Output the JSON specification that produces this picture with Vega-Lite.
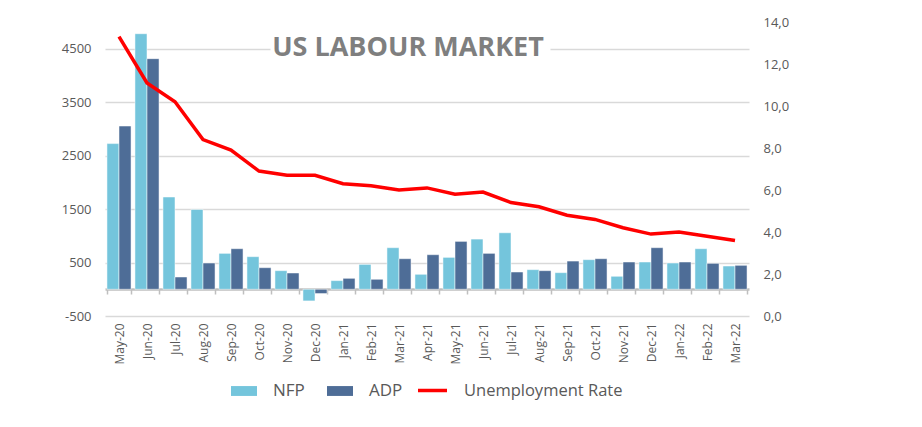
{
  "$schema": "https://vega.github.io/schema/vega-lite/v6.json",
  "width": 644,
  "height": 294,
  "autosize": "none",
  "padding": {"left": 105, "top": 22, "right": 173, "bottom": 111},
  "background": "white",
  "config": {"view": {"stroke": null}, "font": "Open Sans"},
  "title": {
    "text": "US LABOUR MARKET",
    "fontSize": 27,
    "fontWeight": "bold",
    "color": "#7f7f7f",
    "font": "Open Sans",
    "anchor": "middle",
    "frame": "group",
    "offset": -46,
    "dx": -19
  },
  "data": {
    "values": [
      {"month": "May-20", "NFP": 2725, "ADP": 3054, "rate": 13.3},
      {"month": "Jun-20", "NFP": 4781, "ADP": 4314, "rate": 11.1},
      {"month": "Jul-20", "NFP": 1726, "ADP": 230, "rate": 10.2},
      {"month": "Aug-20", "NFP": 1493, "ADP": 491, "rate": 8.4},
      {"month": "Sep-20", "NFP": 672, "ADP": 759, "rate": 7.9},
      {"month": "Oct-20", "NFP": 610, "ADP": 404, "rate": 6.9},
      {"month": "Nov-20", "NFP": 348, "ADP": 305, "rate": 6.7},
      {"month": "Dec-20", "NFP": -218, "ADP": -80, "rate": 6.7},
      {"month": "Jan-21", "NFP": 162, "ADP": 205, "rate": 6.3},
      {"month": "Feb-21", "NFP": 466, "ADP": 187, "rate": 6.2},
      {"month": "Mar-21", "NFP": 778, "ADP": 572, "rate": 6.0},
      {"month": "Apr-21", "NFP": 280, "ADP": 647, "rate": 6.1},
      {"month": "May-21", "NFP": 597, "ADP": 896, "rate": 5.8},
      {"month": "Jun-21", "NFP": 939, "ADP": 672, "rate": 5.9},
      {"month": "Jul-21", "NFP": 1057, "ADP": 323, "rate": 5.4},
      {"month": "Aug-21", "NFP": 367, "ADP": 348, "rate": 5.2},
      {"month": "Sep-21", "NFP": 311, "ADP": 528, "rate": 4.8},
      {"month": "Oct-21", "NFP": 554, "ADP": 572, "rate": 4.6},
      {"month": "Nov-21", "NFP": 243, "ADP": 510, "rate": 4.2},
      {"month": "Dec-21", "NFP": 510, "ADP": 778, "rate": 3.9},
      {"month": "Jan-22", "NFP": 491, "ADP": 510, "rate": 4.0},
      {"month": "Feb-22", "NFP": 759, "ADP": 485, "rate": 3.8},
      {"month": "Mar-22", "NFP": 435, "ADP": 448, "rate": 3.6}
    ]
  },
  "encoding": {
    "x": {
      "field": "month",
      "type": "nominal",
      "sort": null,
      "scale": {"paddingInner": 0.14, "paddingOuter": 0.07},
      "axis": {
        "title": null,
        "orient": "bottom",
        "offset": -27,
        "domainColor": "#bfbfbf",
        "domainWidth": 2.5,
        "ticks": true,
        "tickBand": "extent",
        "tickColor": "#bfbfbf",
        "tickWidth": 1.5,
        "tickSize": 5,
        "labelAngle": -90,
        "labelPadding": 29,
        "labelFontSize": 12,
        "labelColor": "#595959",
        "grid": false
      }
    }
  },
  "layer": [
    {
      "transform": [{"fold": ["NFP", "ADP"], "as": ["series", "value"]}],
      "mark": {"type": "bar", "stroke": "white", "strokeWidth": 0.5},
      "encoding": {
        "xOffset": {"field": "series", "type": "nominal", "sort": ["NFP", "ADP"], "scale": {"paddingInner": 0}},
        "y": {
          "field": "value",
          "type": "quantitative",
          "scale": {"domain": [-500, 5000], "nice": false, "zero": false},
          "axis": {
            "title": null,
            "values": [-500, 500, 1500, 2500, 3500, 4500],
            "labelExpr": "datum.value + ''",
            "grid": true,
            "gridColor": "#d9d9d9",
            "gridWidth": 1.5,
            "gridDash": {"condition": {"test": "datum.value === 4500", "value": [165, 280, 400]}, "value": []},
            "domain": false,
            "ticks": false,
            "labelPadding": 14,
            "labelFontSize": 13,
            "labelColor": "#595959"
          }
        },
        "color": {
          "field": "series",
          "type": "nominal",
          "scale": {"domain": ["NFP", "ADP"], "range": ["#74c5dc", "#4e6d97"]},
          "legend": {
            "title": null,
            "orient": "none",
            "direction": "horizontal",
            "legendX": 126,
            "legendY": 356,
            "labelFontSize": 17,
            "labelColor": "#595959",
            "labelOffset": 16,
            "columnPadding": 22,
            "symbolSize": 676,
            "symbolType": "M-1,-0.38H1V0.38H-1Z",
            "symbolStrokeWidth": 0
          }
        }
      }
    },
    {
      "mark": {"type": "line", "strokeWidth": 3.5},
      "encoding": {
        "y": {
          "field": "rate",
          "type": "quantitative",
          "scale": {"domain": [0, 14], "nice": false},
          "axis": {
            "title": null,
            "orient": "right",
            "values": [0, 2, 4, 6, 8, 10, 12, 14],
            "labelExpr": "replace(format(datum.value, '.1f'), '.', ',')",
            "grid": false,
            "domain": false,
            "ticks": false,
            "labelPadding": 14,
            "labelFontSize": 13,
            "labelColor": "#595959"
          }
        },
        "stroke": {
          "datum": "Unemployment Rate",
          "type": "nominal",
          "scale": {"domain": ["Unemployment Rate"], "range": ["#ff0000"]},
          "legend": {
            "title": null,
            "orient": "none",
            "legendX": 311,
            "legendY": 352,
            "labelFontSize": 16.5,
            "labelColor": "#595959",
            "labelOffset": 15,
            "labelLimit": 300,
            "symbolType": "stroke",
            "symbolSize": 841,
            "symbolStrokeWidth": 3.5
          }
        }
      }
    }
  ],
  "resolve": {"scale": {"y": "independent"}}
}
